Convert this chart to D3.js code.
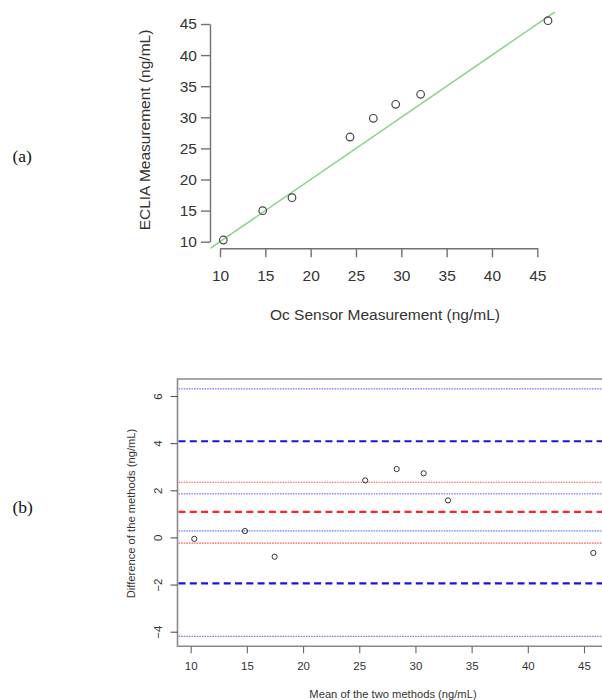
<!DOCTYPE html>
<html>
<head>
<meta charset="utf-8">
<script src="https://cdn.jsdelivr.net/npm/d3@7"></script>
<style>
  html, body { margin: 0; padding: 0; background: #fff; }
  svg { display: block; }
</style>
</head>
<body>
<svg id="chart" width="602" height="700"></svg>
<script>
// ---------- DATA ----------
// (a) method comparison
const ocSensor = [10.37, 14.71, 17.94, 24.34, 26.91, 29.38, 32.13, 46.18];
const eclia    = [10.27, 14.98, 17.07, 26.83, 29.84, 32.09, 33.70, 45.53];
const ablineIntercept = 0;
const ablineSlope = 1;
const topTicks = [10, 15, 20, 25, 30, 35, 40, 45];

// (b) Bland-Altman
const baMean = [10.32, 14.83, 17.47, 25.53, 28.33, 30.73, 32.90, 45.83];
const baDiff = [-0.06, 0.27, -0.82, 2.42, 2.90, 2.72, 1.57, -0.66];
const meanDiff = 1.08;
const meanDiffCI = [-0.24, 2.34];
const limitsOfAgreement = [-1.95, 4.08];
const lowerLimitCI = [-4.20, 0.28];
const upperLimitCI = [1.85, 6.30];
const bottomXTicks = [10, 15, 20, 25, 30, 35, 40, 45];
const bottomYTicks = [-4, -2, 0, 2, 4, 6];

// ---------- DRAW ----------
const svg = d3.select("#chart");
const sans = "'Liberation Sans', Arial, sans-serif";

// panel labels
svg.append("text").attr("x", 12.5).attr("y", 162).text("(a)")
  .attr("font-family", "'Liberation Serif', 'Times New Roman', serif")
  .attr("font-size", 17.5).attr("fill", "#111");
svg.append("text").attr("x", 12.5).attr("y", 513).text("(b)")
  .attr("font-family", "'Liberation Serif', 'Times New Roman', serif")
  .attr("font-size", 17.5).attr("fill", "#111");

// ===== Panel (a) =====
const xA = d3.scaleLinear().domain([10, 45]).range([220, 537.3]);
const yA = d3.scaleLinear().domain([10, 45]).range([241.7, 24]);
const gA = svg.append("g");

// clip = plot region (R usr with 4% expansion)
const xExt = d3.extent(ocSensor), yExt = d3.extent(eclia);
const xPad = (xExt[1] - xExt[0]) * 0.04, yPad = (yExt[1] - yExt[0]) * 0.04;
const usrX = [xExt[0] - xPad, xExt[1] + xPad];
const usrY = [yExt[0] - yPad, yExt[1] + yPad];
svg.append("defs").append("clipPath").attr("id", "clipA")
  .append("rect")
  .attr("x", xA(usrX[0])).attr("y", yA(usrY[1]))
  .attr("width", xA(usrX[1]) - xA(usrX[0]))
  .attr("height", yA(usrY[0]) - yA(usrY[1]));

gA.append("line")
  .attr("clip-path", "url(#clipA)")
  .attr("x1", xA(usrX[0] - 5)).attr("y1", yA(ablineIntercept + ablineSlope * (usrX[0] - 5)))
  .attr("x2", xA(usrX[1] + 5)).attr("y2", yA(ablineIntercept + ablineSlope * (usrX[1] + 5)))
  .attr("stroke", "#8ed48a").attr("stroke-width", 1.6);

function styleAxis(g, color, width, fontSize, textColor) {
  g.selectAll("path.domain").attr("stroke", color).attr("stroke-width", width);
  g.selectAll(".tick line").attr("stroke", color).attr("stroke-width", width);
  g.selectAll(".tick text").attr("font-family", sans).attr("font-size", fontSize)
    .attr("fill", textColor);
}

const axXA = gA.append("g").attr("transform", "translate(0,248.3)")
  .call(d3.axisBottom(xA).tickValues(topTicks).tickSize(9).tickSizeOuter(0).tickPadding(13));
axXA.attr("font-family", null).attr("font-size", null);
styleAxis(axXA, "#707070", 1.4, 15.5, "#333");

const axYA = gA.append("g").attr("transform", "translate(210,0)")
  .call(d3.axisLeft(yA).tickValues(topTicks).tickSize(9).tickSizeOuter(0).tickPadding(4));
axYA.attr("font-family", null).attr("font-size", null);
styleAxis(axYA, "#707070", 1.4, 15.5, "#333");

gA.selectAll("circle.pt").data(ocSensor).join("circle")
  .attr("class", "pt")
  .attr("cx", (d, i) => xA(d)).attr("cy", (d, i) => yA(eclia[i]))
  .attr("r", 3.8).attr("fill", "none").attr("stroke", "#444").attr("stroke-width", 1.2);

gA.append("text").attr("x", 385).attr("y", 320).attr("text-anchor", "middle")
  .attr("font-family", sans).attr("font-size", 15.5).attr("fill", "#333")
  .text("Oc Sensor Measurement (ng/mL)");
gA.append("text").attr("transform", "translate(150,130) rotate(-90)")
  .attr("text-anchor", "middle")
  .attr("font-family", sans).attr("font-size", 15.5).attr("fill", "#333")
  .text("ECLIA Measurement (ng/mL)");

// ===== Panel (b) =====
const xB = d3.scaleLinear().domain([10, 45]).range([190.7, 584]);
const yB = d3.scaleLinear().domain([-4, 6]).range([631.7, 396]);
const gB = svg.append("g");
const boxL = 177.5, boxT = 379, boxB = 646.3, boxR = 610;

// horizontal reference lines
function hline(v, color, width, dash) {
  gB.append("line")
    .attr("x1", boxL + 1).attr("x2", 602)
    .attr("y1", yB(v)).attr("y2", yB(v))
    .attr("stroke", color).attr("stroke-width", width)
    .attr("stroke-dasharray", dash);
}
[...lowerLimitCI, ...upperLimitCI].forEach(v => hline(v, "#7a7aff", 1.2, "1.6,1"));
meanDiffCI.forEach(v => hline(v, "#ff5a5a", 1.1, "1.6,1"));
limitsOfAgreement.forEach(v => hline(v, "#1414e8", 2.2, "7,4.3"));
hline(meanDiff, "#ff2424", 2.2, "7,4.3");

// box
gB.append("path")
  .attr("d", `M${boxR},${boxT}H${boxL}V${boxB}H${boxR}`)
  .attr("fill", "none").attr("stroke", "#8a8a8a").attr("stroke-width", 1.6);

const axXB = gB.append("g").attr("transform", `translate(0,${boxB})`)
  .call(d3.axisBottom(xB).tickValues(bottomXTicks).tickSize(7).tickSizeOuter(0).tickPadding(9));
axXB.attr("font-family", null).attr("font-size", null);
axXB.select("path.domain").remove();
styleAxis(axXB, "#666", 1.1, 11.5, "#333");

const axYB = gB.append("g").attr("transform", `translate(${boxL},0)`)
  .call(d3.axisLeft(yB).tickValues(bottomYTicks).tickSize(7).tickSizeOuter(0));
axYB.attr("font-family", null).attr("font-size", null);
axYB.select("path.domain").remove();
styleAxis(axYB, "#555", 1.1, 11.5, "#333");
axYB.selectAll(".tick text")
  .attr("x", null).attr("dy", null)
  .attr("text-anchor", "middle")
  .attr("transform", "translate(-20,0) rotate(-90) translate(0,4)");

gB.selectAll("circle.pt").data(baMean).join("circle")
  .attr("class", "pt")
  .attr("cx", d => xB(d)).attr("cy", (d, i) => yB(baDiff[i]))
  .attr("r", 2.6).attr("fill", "none").attr("stroke", "#333").attr("stroke-width", 1);

gB.append("text").attr("x", 393).attr("y", 698).attr("text-anchor", "middle")
  .attr("font-family", sans).attr("font-size", 11.2).attr("fill", "#333")
  .text("Mean of the two methods (ng/mL)");
gB.append("text").attr("transform", "translate(134.5,513.5) rotate(-90)")
  .attr("text-anchor", "middle")
  .attr("font-family", sans).attr("font-size", 11.2).attr("fill", "#333")
  .text("Difference of the methods (ng/mL)");
</script>
</body>
</html>
